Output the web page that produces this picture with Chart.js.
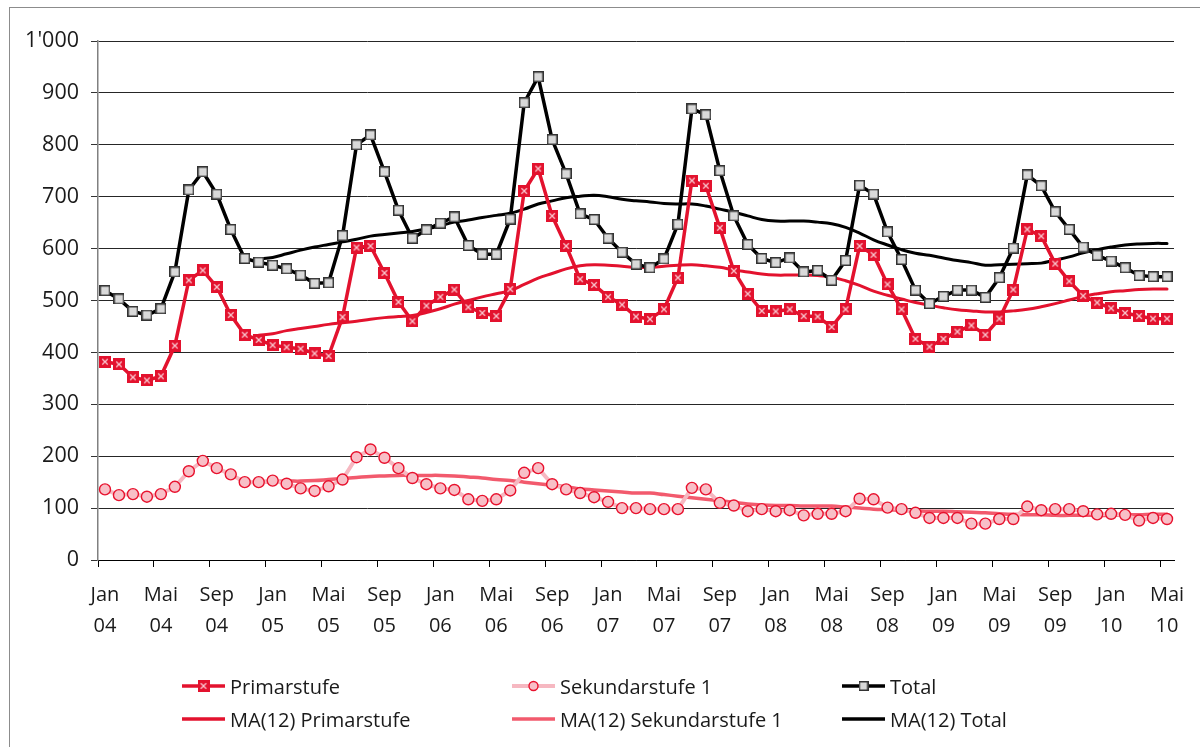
<!DOCTYPE html>
<html>
<head>
<meta charset="utf-8">
<script src="https://cdn.jsdelivr.net/npm/chart.js@4.4.1/dist/chart.umd.min.js"></script>
<style>
html,body{margin:0;padding:0;background:#fff;}
#wrap{position:relative;width:1200px;height:747px;overflow:hidden;background:#fff;}
#frame{position:absolute;left:9px;top:7px;width:1400px;height:900px;border:1px solid #8c8c8c;box-sizing:border-box;pointer-events:none;}
#chart{position:absolute;left:0;top:0;}
.lg{position:absolute;height:24px;display:flex;align-items:center;font-family:'Open Sans',sans-serif;font-size:20px;color:#1a1a1a;white-space:nowrap;}
.lg canvas{margin-right:5px;}
</style>
</head>
<body>
<div id="wrap">
  <canvas id="chart" width="1200" height="747"></canvas>
  <div id="frame"></div>
  <div id="legend"></div>
</div>
<script>
// ---- data ----
const monthNames = ['Jan','Feb','Mär','Apr','Mai','Jun','Jul','Aug','Sep','Okt','Nov','Dez'];
const years = ['04','05','06','07','08','09','10'];
const lastMonthIndex2010 = 4; // Mai 10
const categories = [];
years.forEach((y, yi) => {
  monthNames.forEach((m, mi) => {
    if (y === '10' && mi > lastMonthIndex2010) return;
    categories.push([m, y]);
  });
});

const primarstufe = [382,377,352,346,354,413,539,558,526,472,
  434,424,414,410,407,398,393,468,602,605,
  553,497,460,490,507,521,487,476,470,522,
  711,754,663,605,541,530,507,492,469,464,
  483,544,731,721,640,557,513,480,479,483,
  470,469,449,483,605,588,531,483,426,411,
  426,440,452,434,465,521,637,624,571,537,
  509,496,485,476,470,465,465];

const sekundarstufe1 = [136,125,127,122,127,141,171,191,177,165,
  150,150,153,147,138,133,142,155,198,213,
  197,177,158,146,138,135,117,114,117,134,
  168,177,146,136,129,121,112,100,100,98,
  98,98,139,136,110,105,94,98,94,96,
  86,89,89,94,118,117,101,98,91,81,
  81,81,70,70,79,79,103,96,98,98,
  94,88,89,87,76,81,79];

const total = [519,503,479,472,484,555,713,748,705,637,
  581,574,568,561,549,533,534,625,800,819,
  748,674,620,636,649,661,606,589,589,657,
  881,931,810,744,667,656,620,593,570,563,
  580,647,869,858,750,663,608,581,573,582,
  555,558,539,577,722,705,632,579,520,494,
  508,520,520,506,544,601,742,721,671,637,
  603,587,576,563,548,546,546];

// 12-month moving averages (first value at Dez 04)
const maStart = 11;
const maPrimarstufe = [433,436,442,446,450,454,457,460,464,467,
  469,471,477,484,493,500,507,513,519,531,
  543,552,561,567,569,568,566,564,564,566,
  568,569,567,564,559,555,551,549,549,549,
  548,545,538,529,518,510,503,496,491,486,
  482,480,478,478,480,483,488,494,501,508,
  513,517,519,521,522,522];
const maSekundarstufe1 = [151,151,152,152,153,155,157,159,161,162,
  163,163,163,163,162,160,158,155,153,150,
  147,144,141,137,135,133,131,129,129,126,
  123,120,117,114,111,108,106,105,105,104,
  104,104,102,100,98,97,96,95,94,94,
  93,92,91,89,88,87,87,86,86,86,
  86,86,87,87,88,88];
const maTotal = [580,583,590,597,603,608,613,618,624,627,
  630,633,638,644,651,655,660,664,668,676,
  686,692,698,701,703,700,695,692,690,687,
  686,686,682,676,670,663,656,653,653,653,
  651,648,641,630,617,607,598,591,587,582,
  577,573,568,569,570,571,572,578,584,592,
  598,603,607,609,610,610];

const yTicks = [0,100,200,300,400,500,600,700,800,900,1000];

function padMA(arr){ return new Array(maStart).fill(null).concat(arr); }

// ---- styles ----
const RED = '#e3122e';
const PINK_LINE = '#f6b8c1';
const PINK_FILL = '#f8bfc7';
const MA_SEK = '#f25a6d';
const FONT = "'Open Sans', sans-serif";

function markerPrimar(size){
  const c = document.createElement('canvas'); c.width = size; c.height = size;
  const g = c.getContext('2d');
  g.fillStyle = RED; g.fillRect(0,0,size,size);
  g.strokeStyle = '#f9c3cc'; g.lineWidth = 1.3;
  const a = size*0.27, b = size*0.73;
  g.beginPath(); g.moveTo(a,a); g.lineTo(b,b); g.moveTo(b,a); g.lineTo(a,b); g.stroke();
  return c;
}
function markerTotal(size){
  const c = document.createElement('canvas'); c.width = size; c.height = size;
  const g = c.getContext('2d');
  g.fillStyle = '#d9d9d9'; g.fillRect(0,0,size,size);
  g.strokeStyle = '#333'; g.lineWidth = 1.5;
  g.strokeRect(0.75,0.75,size-1.5,size-1.5);
  return c;
}
const mP = markerPrimar(12);
const mT = markerTotal(11);

const ctx = document.getElementById('chart').getContext('2d');
new Chart(ctx, {
  type: 'line',
  data: {
    labels: categories,
    datasets: [
      { label:'Primarstufe', data: primarstufe, borderColor: RED, borderWidth: 3.5,
        pointStyle: mP, pointRadius: 6, pointHoverRadius: 6, tension: 0, order: 2 },
      { label:'Sekundarstufe 1', data: sekundarstufe1, borderColor: PINK_LINE, borderWidth: 4,
        pointStyle: 'circle', pointRadius: 5.5, pointBackgroundColor: PINK_FILL, pointBorderColor: '#e8112d',
        pointBorderWidth: 1.4, tension: 0, order: 3 },
      { label:'Total', data: total, borderColor: '#000', borderWidth: 3.5,
        pointStyle: mT, pointRadius: 6, tension: 0, order: 1 },
      { label:'MA(12) Primarstufe', data: padMA(maPrimarstufe), borderColor: RED, borderWidth: 3,
        pointRadius: 0, tension: 0.4, order: 5 },
      { label:'MA(12) Sekundarstufe 1', data: padMA(maSekundarstufe1), borderColor: MA_SEK, borderWidth: 3.5,
        pointRadius: 0, tension: 0.4, order: 6 },
      { label:'MA(12) Total', data: padMA(maTotal), borderColor: '#000', borderWidth: 3,
        pointRadius: 0, tension: 0.4, order: 4 }
    ]
  },
  options: {
    responsive: false,
    animation: false,
    devicePixelRatio: 1,
    layout: { padding: { top: 41, right: 26, left: 0, bottom: 0 } },
    elements: { line: { borderJoinStyle: 'round', borderCapStyle: 'round', fill: false } },
    plugins: { legend: { display: false }, tooltip: { enabled: false } },
    scales: {
      x: {
        type: 'category',
        offset: true,
        grid: {
          offset: true, drawOnChartArea: false, drawTicks: true, tickLength: 7,
          color: (c) => (c.index % 4 === 0 ? '#000' : 'rgba(0,0,0,0)'), lineWidth: 1
        },
        border: { display: true, color: '#000', width: 1 },
        ticks: {
          autoSkip: false, maxRotation: 0, minRotation: 0, padding: 13,
          color: '#1a1a1a', font: { family: FONT, size: 20, lineHeight: 1.55 },
          callback: (v, i) => (i % 4 === 0 ? categories[i] : '')
        },
        afterFit: (s) => { s.height = 187; }
      },
      y: {
        min: 0, max: 1000,
        afterBuildTicks: (s) => { s.ticks = yTicks.map(v => ({ value: v })); },
        grid: { color: '#262626', lineWidth: 1, drawTicks: true, tickLength: 7, tickColor: '#333' },
        border: { display: true, color: '#808080', width: 1.5 },
        ticks: {
          padding: 12, color: '#1a1a1a', font: { family: FONT, size: 21.5 },
          callback: (v) => (v >= 1000 ? String(v).replace(/\B(?=(\d{3})+(?!\d))/g, "'") : String(v))
        },
        afterFit: (s) => { s.width = 98; }
      }
    }
  }
});

// ---- HTML legend ----
const legendItems = [
  { text: 'Primarstufe', left: 182, top: 686, line: RED, lw: 3.5, marker: 'p' },
  { text: 'Sekundarstufe 1', left: 512, top: 686, line: PINK_LINE, lw: 4, marker: 'c' },
  { text: 'Total', left: 842, top: 686, line: '#000', lw: 3.5, marker: 't' },
  { text: 'MA(12) Primarstufe', left: 182, top: 719, line: RED, lw: 3.5 },
  { text: 'MA(12) Sekundarstufe 1', left: 512, top: 719, line: MA_SEK, lw: 3.5 },
  { text: 'MA(12) Total', left: 842, top: 719, line: '#000', lw: 3.5 }
];
const lg = document.getElementById('legend');
legendItems.forEach(it => {
  const d = document.createElement('div');
  d.className = 'lg';
  d.style.left = it.left + 'px';
  d.style.top = (it.top - 12) + 'px';
  const c = document.createElement('canvas');
  c.width = 43; c.height = 20;
  const g = c.getContext('2d');
  g.strokeStyle = it.line; g.lineWidth = it.lw;
  g.beginPath(); g.moveTo(0, 10); g.lineTo(43, 10); g.stroke();
  if (it.marker === 'p') g.drawImage(markerPrimar(12), 15.5, 4);
  if (it.marker === 't') g.drawImage(markerTotal(10), 16.5, 5);
  if (it.marker === 'c') {
    g.beginPath(); g.arc(21.5, 10, 4.5, 0, Math.PI * 2);
    g.fillStyle = PINK_FILL; g.fill(); g.strokeStyle = '#e8112d'; g.lineWidth = 1.4; g.stroke();
  }
  const s = document.createElement('span');
  s.textContent = it.text;
  d.appendChild(c); d.appendChild(s);
  lg.appendChild(d);
});
</script>
</body>
</html>
